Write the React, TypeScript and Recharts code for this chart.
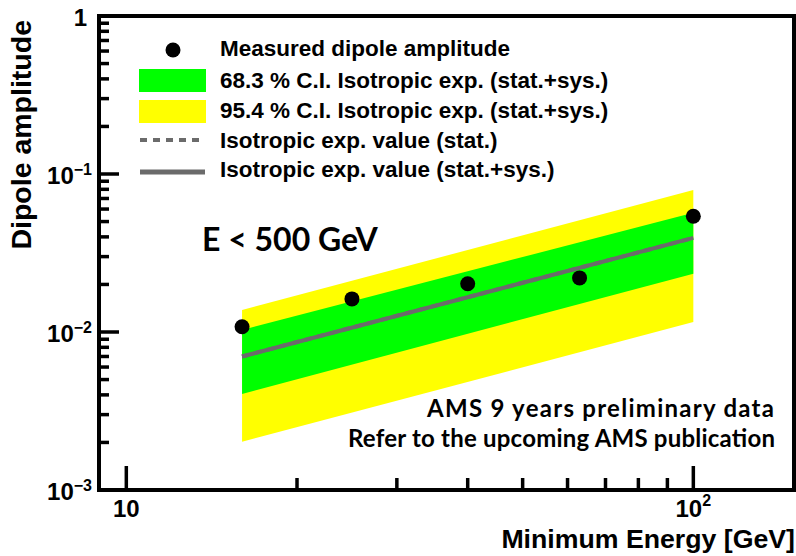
import React from 'react'
import { ComposedChart, XAxis, YAxis, Area, Line, Scatter, Legend } from 'recharts'

// measured dipole amplitude vs minimum energy
const energies = [16, 25, 40, 63, 100]
const measured = [0.0108, 0.0162, 0.0202, 0.022, 0.054]

// isotropic expectation bands (straight in log-log, given at both ends)
const bandEnergies = [16, 100]
const isoValue = [0.007, 0.0394]
const ci68Low = [0.00405, 0.0234]
const ci68High = [0.0103, 0.0569]
const ci95Low = [0.00202, 0.01157]
const ci95High = [0.0138, 0.0791]

const xTicks = [10, 20, 30, 40, 50, 60, 70, 80, 90, 100]
const yTicks = [
  0.001, 0.002, 0.003, 0.004, 0.005, 0.006, 0.007, 0.008, 0.009,
  0.01, 0.02, 0.03, 0.04, 0.05, 0.06, 0.07, 0.08, 0.09,
  0.1, 0.2, 0.3, 0.4, 0.5, 0.6, 0.7, 0.8, 0.9, 1,
]
const yMajorLabels: Record<string, string> = { '0.001': '−3', '0.01': '−2', '0.1': '−1', '1': '' }
const xMajorLabels: Record<string, string> = { '10': '', '100': '2' }

const legendItems = [
  'Measured dipole amplitude',
  '68.3 % C.I. Isotropic exp. (stat.+sys.)',
  '95.4 % C.I. Isotropic exp. (stat.+sys.)',
  'Isotropic exp. value (stat.)',
  'Isotropic exp. value (stat.+sys.)',
]

const bandData = bandEnergies.map((e, i) => ({
  e,
  iso: isoValue[i],
  b68: [ci68Low[i], ci68High[i]],
  b95: [ci95Low[i], ci95High[i]],
}))
const pointData = energies.map((e, i) => ({ e, amp: measured[i] }))

const FONT = '"Liberation Sans", Arial, sans-serif'
const CAL = 'Lato, "Open Sans", sans-serif'
const GREY = '#6b6b6b'

const XTick = (props: any) => {
  const { x, y, payload } = props
  const key = String(payload.value)
  const major = key in xMajorLabels
  return (
    <g>
      <line x1={x} x2={x} y1={y} y2={y - (major ? 24 : 12)} stroke="#000" strokeWidth={3.5} />
      {major && (
        <text x={x} y={y + 27} textAnchor="middle" fontFamily={FONT} fontWeight="bold" fontSize={24} fill="#000">
          10
          {xMajorLabels[key] && (
            <tspan dy={-11} fontSize={16}>{xMajorLabels[key]}</tspan>
          )}
        </text>
      )}
    </g>
  )
}

const YTick = (props: any) => {
  const { x, y, payload } = props
  const key = String(payload.value)
  const major = key in yMajorLabels
  const exp = yMajorLabels[key]
  return (
    <g>
      <line x1={x} x2={x + (major ? 20 : 10)} y1={y} y2={y} stroke="#000" strokeWidth={3.5} />
      {major && (
        <text x={exp ? x - 7 : x - 12} y={y + 10} textAnchor="end" fontFamily={FONT} fontWeight="bold" fontSize={24} fill="#000">
          {exp ? '10' : '1'}
          {exp && <tspan dy={-9} fontSize={16}>{exp}</tspan>}
        </text>
      )}
    </g>
  )
}

const LegendBox = () => {
  const ox = 130
  const oy = 30
  const baselines = [56, 88, 118, 148, 177]
  return (
    <svg width={470} height={160} style={{ overflow: 'visible', display: 'block' }}>
      <g transform={`translate(${-ox},${-oy})`}>
        <circle cx={173} cy={50} r={7.5} fill="#000" />
        <rect x={139} y={69} width={67} height={23} fill="#00ff00" />
        <rect x={139} y={100} width={67} height={23} fill="#ffff00" />
        <line x1={140} x2={205} y1={140} y2={140} stroke={GREY} strokeWidth={4} strokeDasharray="7 6" />
        <line x1={140} x2={205} y1={172} y2={172} stroke={GREY} strokeWidth={5} />
        {legendItems.map((t, i) => (
          <text key={t} x={220} y={baselines[i]} fontFamily={FONT} fontWeight="bold" fontSize={22.5} fill="#000">
            {t}
          </text>
        ))}
      </g>
    </svg>
  )
}

const axisLine = { stroke: '#000', strokeWidth: 4, strokeLinecap: 'square' as const }

export default function App() {
  return (
    <div style={{ position: 'absolute', left: 0, top: 0, width: 796, height: 556, background: '#fff' }}>
      <ComposedChart
        width={796}
        height={556}
        data={bandData}
        margin={{ top: 15, right: 1, bottom: 65, left: 98 }}
      >
        <XAxis
          dataKey="e"
          type="number"
          scale="log"
          domain={[8.95, 150.5]}
          allowDataOverflow
          ticks={xTicks}
          interval={0}
          tickSize={0}
          tickMargin={0}
          height={1}
          axisLine={axisLine}
          tick={<XTick />}
        />
        <XAxis xAxisId="top" orientation="top" type="number" scale="log" domain={[8.95, 150.5]} allowDataOverflow height={1} tick={false} tickLine={false} axisLine={axisLine} />
        <YAxis
          type="number"
          scale="log"
          domain={[0.001, 1]}
          allowDataOverflow
          ticks={yTicks}
          interval={0}
          tickSize={0}
          tickMargin={0}
          width={1}
          axisLine={axisLine}
          tick={<YTick />}
        />
        <YAxis yAxisId="right" orientation="right" type="number" scale="log" domain={[0.001, 1]} allowDataOverflow width={1} tick={false} tickLine={false} axisLine={axisLine} />
        <Legend
          layout="horizontal"
          verticalAlign="middle"
          align="center"
          wrapperStyle={{ left: 130, top: 30, width: 470, height: 160 }}
          content={<LegendBox />}
        />
        <Area dataKey="b95" type="linear" fill="#ffff00" fillOpacity={1} stroke="none" isAnimationActive={false} />
        <Area dataKey="b68" type="linear" fill="#00ff00" fillOpacity={1} stroke="none" isAnimationActive={false} />
        <Line dataKey="iso" type="linear" stroke={GREY} strokeWidth={4} strokeDasharray="7 6" dot={false} isAnimationActive={false} />
        <Line dataKey="iso" type="linear" stroke={GREY} strokeWidth={4} dot={false} isAnimationActive={false} />
        <Scatter
          data={pointData}
          dataKey="amp"
          fill="#000"
          isAnimationActive={false}
          shape={(p: any) => <circle cx={p.cx} cy={p.cy} r={7.5} fill="#000" />}
        />
      </ComposedChart>
      <svg width={796} height={556} style={{ position: 'absolute', left: 0, top: 0, pointerEvents: 'none' }}>
        <text transform="translate(31,20) rotate(-90)" textAnchor="end" fontFamily={FONT} fontWeight="bold" fontSize={28.5} fill="#000">
          Dipole amplitude
        </text>
        <text x={795} y={548} textAnchor="end" fontFamily={FONT} fontWeight="bold" fontSize={26.7} fill="#000">
          Minimum Energy [GeV]
        </text>
        <text x={202} y={251} fontFamily={CAL} fontWeight="bold" fontSize={32} fill="#000">
          E &lt; 500 GeV
        </text>
        <text x={774} y={417} textAnchor="end" textLength={347} lengthAdjust="spacing" fontFamily={CAL} fontWeight="bold" fontSize={24} fill="#000">
          AMS 9 years preliminary data
        </text>
        <text x={775} y={447} textAnchor="end" textLength={427} lengthAdjust="spacing" fontFamily={CAL} fontWeight="bold" fontSize={24} fill="#000">
          Refer to the upcoming AMS publication
        </text>
      </svg>
    </div>
  )
}
